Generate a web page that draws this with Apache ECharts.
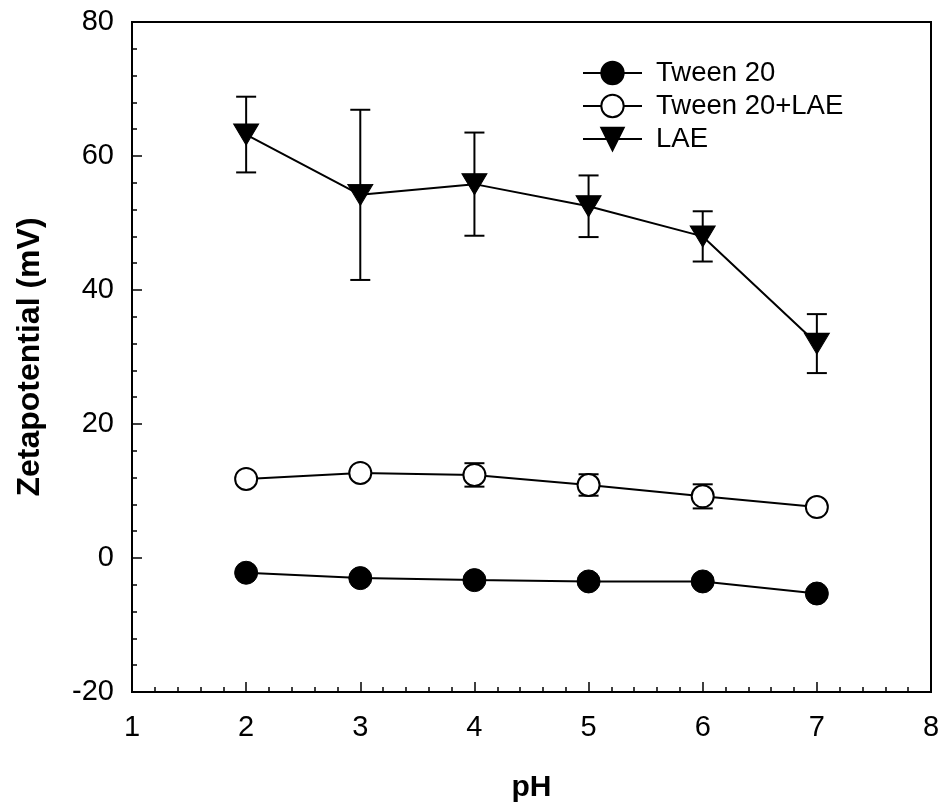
<!DOCTYPE html>
<html>
<head>
<meta charset="utf-8">
<script src="https://cdn.jsdelivr.net/npm/echarts@6/dist/echarts.min.js"></script>
<style>
  html, body { margin: 0; padding: 0; background: #fff; }
  #chart { width: 944px; height: 810px; }
</style>
</head>
<body>
<div id="chart"></div>
<script>
// ---- data ----
const pH = [2, 3, 4, 5, 6, 7];
const tween20 = [-2.2, -3.0, -3.3, -3.5, -3.5, -5.3];
const tween20Err = [0, 0, 0, 0, 0, 0];
const tween20LAE = [11.8, 12.7, 12.4, 10.9, 9.2, 7.6];
const tween20LAEErr = [0, 0, 1.75, 1.6, 1.8, 0];
const lae = [63.2, 54.2, 55.8, 52.5, 48.0, 32.0];
const laeErr = [5.65, 12.7, 7.7, 4.6, 3.75, 4.4];
const seriesNames = ['Tween 20', 'Tween 20+LAE', 'LAE'];
const xAxisTitle = 'pH';
const yAxisTitle = 'Zetapotential (mV)';

const FONT = '"Liberation Sans", Arial, sans-serif';

function pairs(ys) { return pH.map((x, i) => [x, ys[i]]); }
function errData(ys, errs) {
  return pH.map((x, i) => [x, ys[i], errs[i]]).filter(d => d[2] > 0);
}
function errSeries(ys, errs) {
  return {
    type: 'custom',
    z: 1,
    silent: true,
    data: errData(ys, errs),
    encode: { x: 0, y: [1] },
    renderItem: function (params, api) {
      const x = api.value(0), y = api.value(1), e = api.value(2);
      const top = api.coord([x, y + e]);
      const bot = api.coord([x, y - e]);
      const hw = 10;
      const st = { stroke: '#000', lineWidth: 2 };
      return {
        type: 'group',
        children: [
          { type: 'line', shape: { x1: top[0], y1: top[1], x2: bot[0], y2: bot[1] }, style: st },
          { type: 'line', shape: { x1: top[0] - hw, y1: top[1], x2: top[0] + hw, y2: top[1] }, style: st },
          { type: 'line', shape: { x1: bot[0] - hw, y1: bot[1], x2: bot[0] + hw, y2: bot[1] }, style: st }
        ]
      };
    }
  };
}

const chart = echarts.init(document.getElementById('chart'), null, { renderer: 'canvas' });
chart.setOption({
  animation: false,
  backgroundColor: '#fff',
  textStyle: { fontFamily: FONT, color: '#000' },
  grid: {
    left: 132, right: 13, top: 22, bottom: 118,
    show: true, borderColor: '#000', borderWidth: 2, backgroundColor: 'transparent'
  },
  legend: {
    left: 577, top: 54,
    orient: 'vertical',
    itemWidth: 59, itemHeight: 28, itemGap: 5,
    data: seriesNames,
    textStyle: { fontFamily: FONT, fontSize: 27.5, color: '#000', padding: [0, 0, 0, 9] }
  },
  xAxis: {
    type: 'value', min: 1, max: 8, interval: 1,
    name: xAxisTitle, nameLocation: 'middle', nameGap: 81,
    nameTextStyle: { fontFamily: FONT, fontSize: 30, fontWeight: 'bold', color: '#000' },
    axisLine: { show: true, onZero: false, lineStyle: { color: '#000', width: 2 } },
    axisTick: { show: true, inside: true, length: 10, lineStyle: { color: '#000', width: 1.5 } },
    minorTick: { show: true, splitNumber: 5, length: 5, lineStyle: { color: '#000', width: 1.5 } },
    axisLabel: { fontFamily: FONT, fontSize: 29, color: '#000', margin: 21 },
    splitLine: { show: false }
  },
  yAxis: {
    type: 'value', min: -20, max: 80, interval: 20,
    name: yAxisTitle, nameLocation: 'middle', nameGap: 86,
    nameTextStyle: { fontFamily: FONT, fontSize: 32, fontWeight: 'bold', color: '#000' },
    axisLine: { show: true, onZero: false, lineStyle: { color: '#000', width: 2 } },
    axisTick: { show: true, inside: true, length: 10, lineStyle: { color: '#000', width: 1.5 } },
    minorTick: { show: true, splitNumber: 5, length: 5, lineStyle: { color: '#000', width: 1.5 } },
    axisLabel: { fontFamily: FONT, fontSize: 29, color: '#000', margin: 18 },
    splitLine: { show: false }
  },
  series: [
    errSeries(tween20, tween20Err),
    errSeries(tween20LAE, tween20LAEErr),
    errSeries(lae, laeErr),
    {
      name: seriesNames[0], type: 'line', z: 3, data: pairs(tween20),
      symbol: 'circle', symbolSize: 23,
      lineStyle: { color: '#000', width: 2 },
      itemStyle: { color: '#000', borderColor: '#000', borderWidth: 1 }
    },
    {
      name: seriesNames[1], type: 'line', z: 3, data: pairs(tween20LAE),
      symbol: 'circle', symbolSize: 22,
      lineStyle: { color: '#000', width: 2 },
      itemStyle: { color: '#fff', borderColor: '#000', borderWidth: 2 }
    },
    {
      name: seriesNames[2], type: 'line', z: 3, data: pairs(lae),
      symbol: 'triangle', symbolSize: [25, 21], symbolRotate: 180,
      lineStyle: { color: '#000', width: 2 },
      itemStyle: { color: '#000', borderColor: '#000', borderWidth: 1 }
    }
  ]
});
</script>
</body>
</html>
